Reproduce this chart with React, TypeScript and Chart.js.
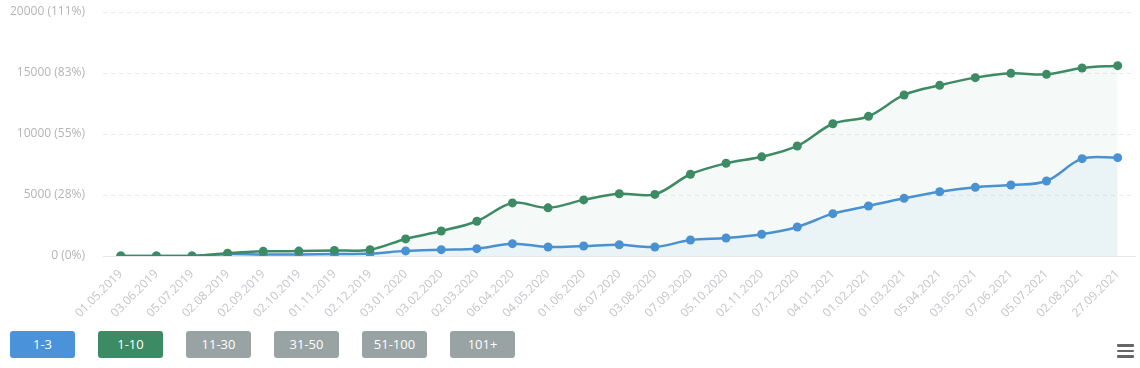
import React, { useEffect, useRef } from 'react';
import { Chart, registerables } from 'chart.js';

Chart.register(...registerables);

const categories = [
  '01.05.2019', '03.06.2019', '05.07.2019', '02.08.2019', '02.09.2019', '02.10.2019',
  '01.11.2019', '02.12.2019', '03.01.2020', '03.02.2020', '02.03.2020', '06.04.2020',
  '04.05.2020', '01.06.2020', '06.07.2020', '03.08.2020', '07.09.2020', '05.10.2020',
  '02.11.2020', '07.12.2020', '04.01.2021', '01.02.2021', '01.03.2021', '05.04.2021',
  '03.05.2021', '07.06.2021', '05.07.2021', '02.08.2021', '27.09.2021',
];

const top3 = [
  0, 0, 0, 150, 120, 130, 160, 200, 420, 520, 600, 1010, 740, 820, 925, 740,
  1310, 1475, 1780, 2380, 3470, 4100, 4730, 5270, 5630, 5820, 6150, 7980, 8060,
];

const top10 = [
  0, 0, 0, 230, 380, 400, 450, 520, 1400, 2050, 2850, 4350, 3950, 4600, 5100, 5050,
  6700, 7600, 8130, 9020, 10840, 11450, 13200, 13990, 14620, 14970, 14890, 15410, 15600,
];

const yTickValues = [0, 5000, 10000, 15000, 20000];
const yTickLabels = ['0 (0%)', '5000 (28%)', '10000 (55%)', '15000 (83%)', '20000 (111%)'];

const buttonLabels = ['1-3', '1-10', '11-30', '31-50', '51-100', '101+'];
const buttonColors = ['#4a92d9', '#3d8b64', '#9aa3a3', '#9aa3a3', '#9aa3a3', '#9aa3a3'];

const GREEN = '#3d8b64';
const BLUE = '#4a92d6';
const FONT = "'Open Sans', sans-serif";

export default function App() {
  const canvasRef = useRef<HTMLCanvasElement | null>(null);

  useEffect(() => {
    const canvas = canvasRef.current;
    if (!canvas) return;
    const chart = new Chart(canvas, {
      type: 'line',
      data: {
        labels: categories,
        datasets: [
          {
            label: '1-10',
            data: top10,
            borderColor: GREEN,
            backgroundColor: 'rgba(61,139,100,0.05)',
            pointBackgroundColor: GREEN,
            pointBorderColor: GREEN,
            pointRadius: 4.5,
            pointBorderWidth: 0,
            borderWidth: 2.5,
            tension: 0.35,
            fill: 'origin',
            order: 0,
          },
          {
            label: '1-3',
            data: top3,
            borderColor: BLUE,
            backgroundColor: 'rgba(74,146,214,0.06)',
            pointBackgroundColor: BLUE,
            pointBorderColor: BLUE,
            pointRadius: 4.5,
            pointBorderWidth: 0,
            borderWidth: 2.5,
            tension: 0.35,
            fill: 'origin',
            order: 1,
          },
        ],
      },
      options: {
        animation: false,
        responsive: false,
        maintainAspectRatio: false,
        layout: { padding: { top: 0, right: 3, left: 0, bottom: 0 } },
        plugins: {
          legend: { display: false },
          tooltip: { enabled: false },
        },
        scales: {
          x: {
            offset: true,
            grid: { display: false, drawTicks: false },
            border: { display: true, color: '#e6e6e6', width: 1 },
            ticks: {
              autoSkip: false,
              minRotation: 45,
              maxRotation: 45,
              padding: 11,
              color: '#c5c5cb',
              font: { family: FONT, size: 12 },
            },
            afterFit: (s: any) => {
              s.height = 69;
            },
          },
          y: {
            min: 0,
            max: 20000,
            afterBuildTicks: (s: any) => {
              s.ticks = yTickValues.map((v) => ({ value: v }));
            },
            grid: {
              color: '#e9e9e9',
              drawTicks: false,
              lineWidth: 1,
            },
            border: { display: false, dash: [4, 4] },
            ticks: {
              padding: 18,
              color: '#b5b5b5',
              font: { family: FONT, size: 12 },
              callback: (v: any) => {
                const i = yTickValues.indexOf(Number(v));
                return i >= 0 ? yTickLabels[i] : '';
              },
            },
            afterFit: (s: any) => {
              s.width = 103;
              s.paddingTop = 12;
              s.paddingBottom = 8;
            },
          },
        },
      },
    });
    return () => chart.destroy();
  }, []);

  return (
    <div style={{ position: 'absolute', left: 0, top: 0, width: 1140, height: 368, background: '#fff', fontFamily: FONT }}>
      <canvas ref={canvasRef} width={1140} height={325} style={{ position: 'absolute', left: 0, top: 0, width: 1140, height: 325 }} />
      {buttonLabels.map((b, i) => (
        <div
          key={b}
          style={{
            position: 'absolute',
            left: 10 + i * 88,
            top: 331,
            width: 65,
            height: 27,
            lineHeight: '27px',
            borderRadius: 3,
            background: buttonColors[i],
            color: '#fff',
            fontSize: 13,
            textAlign: 'center',
          }}
        >
          {b}
        </div>
      ))}
      <div style={{ position: 'absolute', left: 1117, top: 344, width: 17, height: 14 }}>
        {[0, 1, 2].map((k) => (
          <div key={k} style={{ position: 'absolute', left: 0, top: k * 5.5, width: 17, height: 2.5, background: '#666', borderRadius: 1 }} />
        ))}
      </div>
    </div>
  );
}
